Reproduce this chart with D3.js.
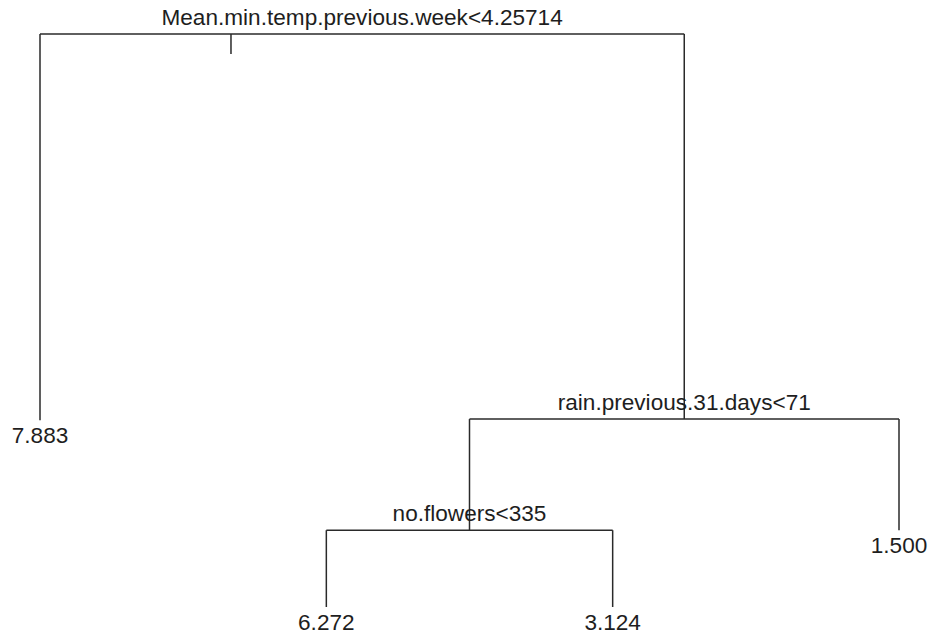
<!DOCTYPE html>
<html>
<head>
<meta charset="utf-8">
<script src="https://cdn.jsdelivr.net/npm/d3@7"></script>
<style>
  html, body { margin: 0; padding: 0; background: #fff; }
  svg { display: block; }
  text { font-family: "Liberation Sans", Arial, sans-serif; }
</style>
</head>
<body>
<svg id="chart" width="931" height="637"></svg>
<script>
// ---- data (regression tree) ----
const nodeIds      = ["n1", "n2", "n3", "n6", "n7", "n12", "n13"];
const nodeParents  = [null, "n1", "n1", "n3", "n3", "n6", "n6"];
const nodeLabels   = ["Mean.min.temp.previous.week<4.25714", "7.883",
                      "rain.previous.31.days<71", "no.flowers<335", "1.500",
                      "6.272", "3.124"];
// node heights (deviance-like units)
const nodeDeviance = [100, 32.6, 32.8, 13.4, 13.4, 0, 0];
// root stub (position in leaf units, length in deviance units)
const rootStub = [0.667, 3.5];

// ---- layout ----
const W = 931, H = 637;
const svg = d3.select("#chart");

const table = nodeIds.map((id, i) => ({
  id, parentId: nodeParents[i], label: nodeLabels[i], dev: nodeDeviance[i]
}));
const root = d3.stratify()(table);

// leaf order x
const leaves = root.leaves();
leaves.forEach((l, i) => l.pos = i);
root.eachAfter(n => {
  if (n.children) n.pos = d3.mean(n.children, c => c.pos);
});

const x = d3.scaleLinear().domain([0, leaves.length - 1]).range([40, 899]);
const y = d3.scaleLinear().domain([0, 100]).range([607, 34]);

const g = svg.append("g");
const stroke = "#2a2a2a";

// horizontal bars for splits
root.descendants().filter(n => n.children).forEach(n => {
  const xs = n.children.map(c => x(c.pos));
  g.append("line")
    .attr("x1", d3.min(xs)).attr("x2", d3.max(xs))
    .attr("y1", y(n.data.dev)).attr("y2", y(n.data.dev))
    .attr("stroke", stroke).attr("stroke-width", 1.5);
  // verticals to children
  n.children.forEach(c => {
    g.append("line")
      .attr("x1", x(c.pos)).attr("x2", x(c.pos))
      .attr("y1", y(n.data.dev)).attr("y2", y(c.data.dev))
      .attr("stroke", stroke).attr("stroke-width", 1.5);
  });
});

// root stub
g.append("line")
  .attr("x1", x(rootStub[0])).attr("x2", x(rootStub[0]))
  .attr("y1", y(root.data.dev)).attr("y2", y(root.data.dev - rootStub[1]))
  .attr("stroke", stroke).attr("stroke-width", 1.5);

// labels
root.descendants().forEach(n => {
  const isLeaf = !n.children;
  g.append("text")
    .attr("x", x(n.pos))
    .attr("y", isLeaf ? y(n.data.dev) + 23 : y(n.data.dev) - 9)
    .attr("text-anchor", "middle")
    .attr("font-size", 22.6)
    .attr("fill", "#1e1e1e")
    .text(n.data.label);
});
</script>
</body>
</html>
